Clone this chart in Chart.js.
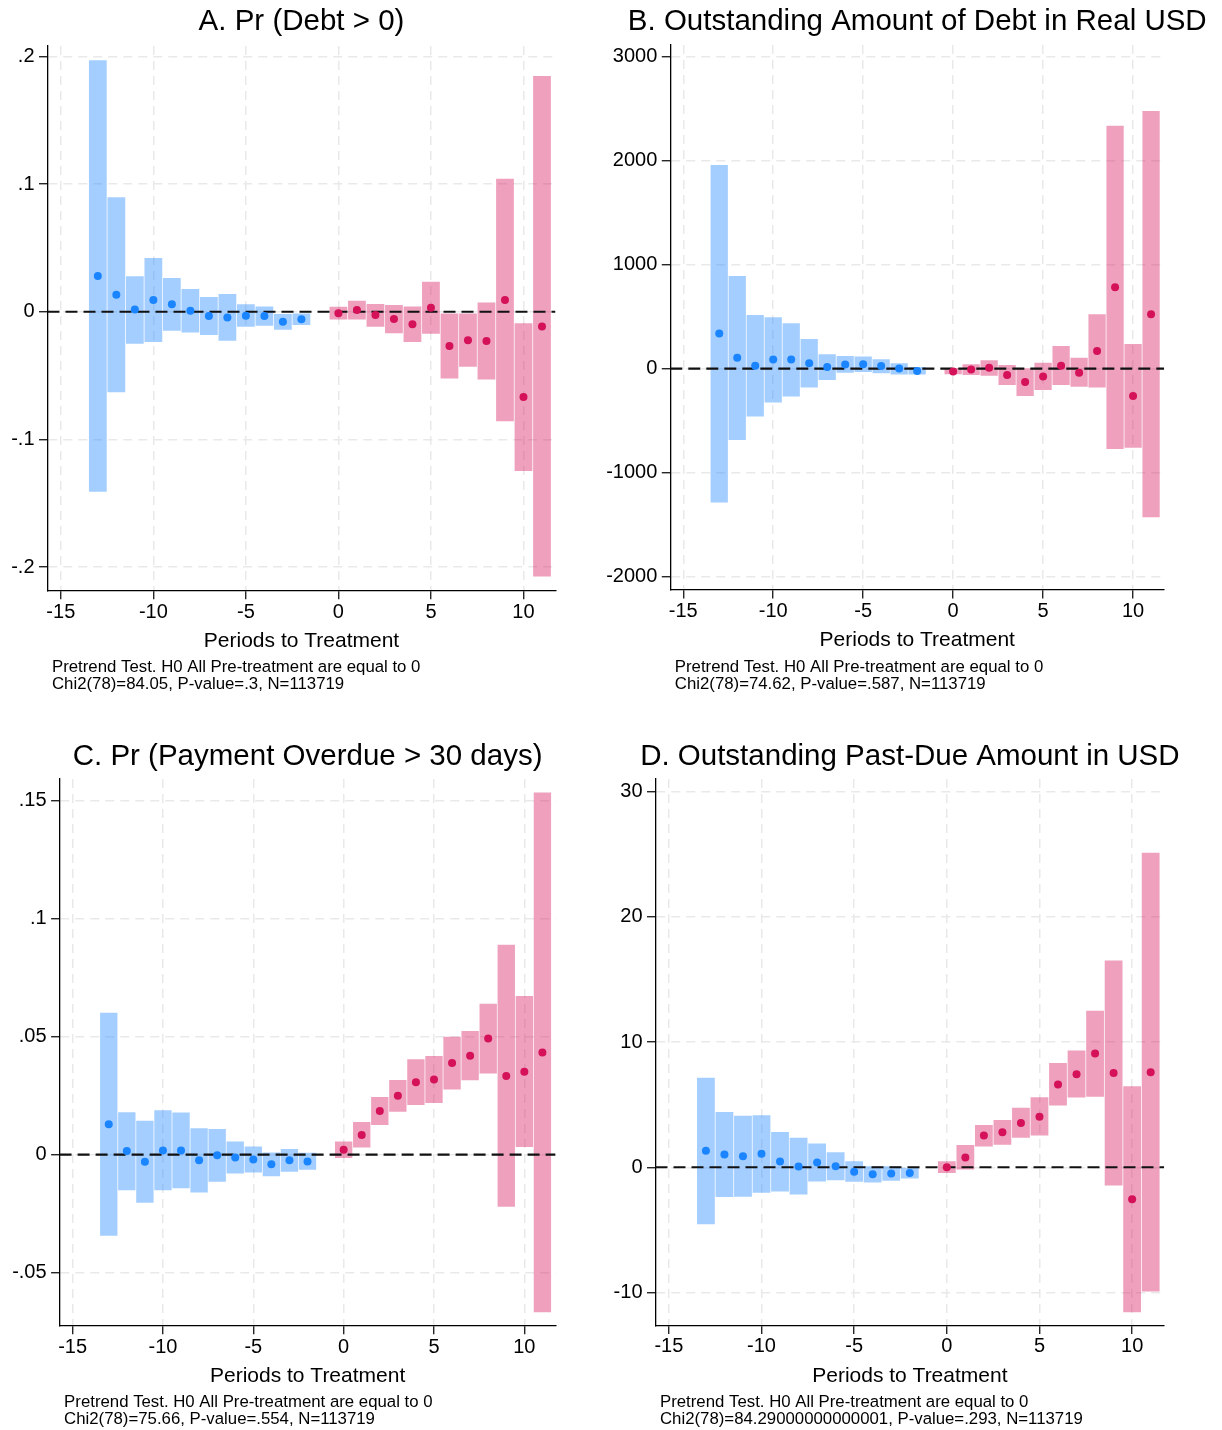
<!DOCTYPE html>
<html>
<head>
<meta charset="utf-8">
<script src="https://cdn.jsdelivr.net/npm/chart.js@4.4.1/dist/chart.umd.min.js"></script>
<style>
  html, body { margin: 0; padding: 0; background: #fff; }
  #wrap { position: relative; width: 1222px; height: 1430px; overflow: hidden; }
  .panel { position: absolute; height: 715px; }
</style>
</head>
<body>
<div id="wrap">
  <div class="panel" style="left:0;top:0"><canvas id="chartA" width="595" height="715"></canvas></div>
  <div class="panel" style="left:595px;top:0"><canvas id="chartB" width="627" height="715"></canvas></div>
  <div class="panel" style="left:0;top:715px"><canvas id="chartC" width="595" height="715"></canvas></div>
  <div class="panel" style="left:595px;top:715px"><canvas id="chartD" width="627" height="715"></canvas></div>
</div>
<script>
const xTicks = [-15, -10, -5, 0, 5, 10];
const prePeriods = [-13, -12, -11, -10, -9, -8, -7, -6, -5, -4, -3, -2];
const postPeriods = [0, 1, 2, 3, 4, 5, 6, 7, 8, 9, 10, 11];

// A. Pr (Debt > 0)
const debtPre   = [0.028, 0.0134, 0.0017, 0.0092, 0.0059, 0.0008, -0.0034, -0.0045, -0.0031, -0.0034, -0.0078, -0.0059];
const debtPreLo = [-0.141, -0.0631, -0.0251, -0.0237, -0.0148, -0.0162, -0.0182, -0.0226, -0.0117, -0.0109, -0.014, -0.0103];
const debtPreHi = [0.197, 0.0897, 0.0279, 0.0422, 0.0265, 0.0179, 0.0115, 0.014, 0.0059, 0.0042, -0.0017, -0.0014];
const debtPost   = [-0.0011, 0.0014, -0.0025, -0.0056, -0.0098, 0.0031, -0.0268, -0.0223, -0.0229, 0.0092, -0.0668, -0.0115];
const debtPostLo = [-0.0061, -0.0061, -0.0117, -0.0168, -0.0237, -0.0173, -0.0522, -0.043, -0.053, -0.0858, -0.1246, -0.2073];
const debtPostHi = [0.0039, 0.0087, 0.0061, 0.0053, 0.0042, 0.0235, -0.0014, -0.0014, 0.0073, 0.1042, -0.0089, 0.1846];
const debtYTicks  = [-0.2, -0.1, 0, 0.1, 0.2];
const debtYLabels = ['-.2', '-.1', '0', '.1', '.2'];

// B. Outstanding Amount of Debt in Real USD
const amtPre   = [337, 103, 27, 86, 86, 52, 14, 38, 41, 24, 0, -24];
const amtPreLo = [-1288, -687, -460, -326, -268, -182, -110, -41, -34, -45, -58, -58];
const amtPreHi = [1957, 889, 515, 494, 436, 285, 137, 120, 117, 89, 52, 14];
const amtPost   = [-27, -10, 7, -62, -130, -76, 27, -41, 168, 783, -264, 522];
const amtPostLo = [-55, -62, -69, -158, -264, -206, -158, -175, -182, -773, -762, -1429];
const amtPostHi = [5, 41, 79, 34, 3, 55, 216, 103, 522, 2335, 237, 2476];
const amtYTicks  = [-2000, -1000, 0, 1000, 2000, 3000];
const amtYLabels = ['-2000', '-1000', '0', '1000', '2000', '3000'];

// C. Pr (Payment Overdue > 30 days)
const overPre   = [0.0129, 0.0015, -0.003, 0.0018, 0.0018, -0.0024, -0.0003, -0.0012, -0.0021, -0.0041, -0.0024, -0.0029];
const overPreLo = [-0.0344, -0.0151, -0.0204, -0.0151, -0.0142, -0.016, -0.0115, -0.008, -0.0076, -0.0092, -0.0073, -0.0064];
const overPreHi = [0.0601, 0.018, 0.0144, 0.0188, 0.0179, 0.0112, 0.0109, 0.0056, 0.0035, 0.0009, 0.0024, 0.0008];
const overPost   = [0.0021, 0.0083, 0.0185, 0.025, 0.0307, 0.0318, 0.0388, 0.0419, 0.0492, 0.0333, 0.0351, 0.0433];
const overPostLo = [-0.0014, 0.003, 0.0126, 0.0182, 0.021, 0.0219, 0.0276, 0.0315, 0.0344, -0.0221, 0.0032, -0.0668];
const overPostHi = [0.0056, 0.0138, 0.0244, 0.0316, 0.0404, 0.0418, 0.05, 0.0524, 0.064, 0.0889, 0.0672, 0.1535];
const overYTicks  = [-0.05, 0, 0.05, 0.1, 0.15];
const overYLabels = ['-.05', '0', '.05', '.1', '.15'];

// D. Outstanding Past-Due Amount in USD
const pastPre   = [1.31, 1.02, 0.87, 1.07, 0.46, 0.06, 0.38, 0.09, -0.35, -0.55, -0.49, -0.46];
const pastPreLo = [-4.56, -2.38, -2.35, -2.03, -1.94, -2.18, -1.13, -1.04, -1.16, -1.22, -1.07, -0.9];
const pastPreHi = [7.14, 4.41, 4.12, 4.15, 2.82, 2.35, 1.89, 1.19, 0.49, 0.09, 0.09, -0.03];
const pastPost   = [0, 0.78, 2.53, 2.79, 3.54, 4.03, 6.62, 7.43, 9.09, 7.52, -2.55, 7.58];
const pastPostLo = [-0.46, -0.17, 1.65, 1.8, 2.35, 2.53, 4.93, 5.57, 5.63, -1.45, -11.58, -9.93];
const pastPostHi = [0.49, 1.77, 3.37, 3.77, 4.76, 5.6, 8.33, 9.32, 12.51, 16.52, 6.47, 25.11];
const pastYTicks  = [-10, 0, 10, 20, 30];
const pastYLabels = ['-10', '0', '10', '20', '30'];

const FONT = '"Liberation Sans", Arial, Helvetica, sans-serif';
const BLUE = '#1a85ff';
const PINK = '#d41159';
const BLUE_BAND = 'rgba(26, 133, 255, 0.4)';
const PINK_BAND = 'rgba(212, 17, 89, 0.4)';
const X_MIN = -15.72, X_MAX = 11.73;

const band = (periods, lo, hi) => periods.map((p, i) => ({ x: p, y: [lo[i], hi[i]] }));
const points = (periods, est) => periods.map((p, i) => ({ x: p, y: est[i] }));

// title above the plot and the two note lines under the axis title
const panelText = {
    id: 'panelText',
    afterDraw(chart, args, opts) {
        const { ctx, chartArea } = chart;
        ctx.save();
        ctx.fillStyle = '#000';
        ctx.textBaseline = 'middle';
        ctx.font = '29.5px ' + FONT;
        ctx.textAlign = 'center';
        ctx.fillText(opts.title, (chartArea.left + chartArea.right) / 2, opts.titleY);
        ctx.font = '16.8px ' + FONT;
        ctx.textAlign = 'left';
        opts.notes.forEach((t, i) => ctx.fillText(t, chartArea.left + 4.5, chartArea.bottom + 77 + i * 17));
        ctx.restore();
    }
};

function drawPanel(id, p) {
    const canvas = document.getElementById(id);
    const ctx = canvas.getContext('2d');
    const xh = 63;
    new Chart(ctx, {
        type: 'bar',
        data: {
            datasets: [
                { type: 'scatter', data: points(prePeriods, p.pre), pointRadius: 4, pointBackgroundColor: BLUE, pointBorderWidth: 0, order: 0 },
                { type: 'scatter', data: points(postPeriods, p.post), pointRadius: 4, pointBackgroundColor: PINK, pointBorderWidth: 0, order: 0 },
                { type: 'line', data: [{ x: X_MIN, y: 0 }, { x: X_MAX, y: 0 }], borderColor: '#111', borderWidth: 2.2, borderDash: [12, 6], pointRadius: 0, order: 1 },
                { type: 'bar', data: band(prePeriods, p.preLo, p.preHi), backgroundColor: BLUE_BAND, grouped: false, categoryPercentage: 1, barPercentage: 0.96, order: 2 },
                { type: 'bar', data: band(postPeriods, p.postLo, p.postHi), backgroundColor: PINK_BAND, grouped: false, categoryPercentage: 1, barPercentage: 0.96, order: 2 }
            ]
        },
        options: {
            responsive: false,
            animation: false,
            layout: { padding: { left: 0, top: p.top, right: canvas.width - p.right, bottom: 715 - p.bottom - xh } },
            scales: {
                x: {
                    type: 'linear', min: X_MIN, max: X_MAX, offset: false,
                    afterBuildTicks: s => { s.ticks = xTicks.map(v => ({ value: v })); },
                    afterFit: s => { s.height = xh; },
                    ticks: { includeBounds: false, autoSkip: false, maxRotation: 0, padding: 1, color: '#000', font: { family: FONT, size: 20 }, callback: v => String(v) },
                    grid: { offset: false, color: '#e9e9e9', lineWidth: 1.5, tickColor: '#000', tickLength: 8.5, tickWidth: 1.2 },
                    border: { color: '#000', width: 1.3, dash: [9, 6] },
                    title: { display: true, text: 'Periods to Treatment', color: '#000', font: { family: FONT, size: 21 }, padding: 0 }
                },
                y: {
                    min: p.yMin, max: p.yMax,
                    afterBuildTicks: s => { s.ticks = p.yTicks.map(v => ({ value: v })); },
                    afterFit: s => { s.width = p.left; },
                    ticks: { includeBounds: false, autoSkip: false, padding: 4.5, color: '#000', font: { family: FONT, size: 20 }, callback: v => p.yLabels[p.yTicks.indexOf(v)] },
                    grid: { color: '#e9e9e9', lineWidth: 1.5, tickColor: '#000', tickLength: 8.5, tickWidth: 1.2 },
                    border: { color: '#000', width: 1.3, dash: [9, 6] }
                }
            },
            plugins: {
                legend: { display: false },
                tooltip: { enabled: false },
                panelText: { title: p.title, titleY: p.titleY, notes: p.notes }
            }
        },
        plugins: [panelText]
    });
}

drawPanel('chartA', {
    title: 'A. Pr (Debt > 0)', titleY: 21.5,
    left: 47.5, right: 555.5, top: 46, bottom: 590.7,
    yMin: -0.2184, yMax: 0.2081, yTicks: debtYTicks, yLabels: debtYLabels,
    pre: debtPre, preLo: debtPreLo, preHi: debtPreHi,
    post: debtPost, postLo: debtPostLo, postHi: debtPostHi,
    notes: ['Pretrend Test. H0 All Pre-treatment are equal to 0', 'Chi2(78)=84.05, P-value=.3, N=113719']
});

drawPanel('chartB', {
    title: 'B. Outstanding Amount of Debt in Real USD', titleY: 21.5,
    left: 75.3, right: 569.2, top: 45, bottom: 590,
    yMin: -2129, yMax: 3111, yTicks: amtYTicks, yLabels: amtYLabels,
    pre: amtPre, preLo: amtPreLo, preHi: amtPreHi,
    post: amtPost, postLo: amtPostLo, postHi: amtPostHi,
    notes: ['Pretrend Test. H0 All Pre-treatment are equal to 0', 'Chi2(78)=74.62, P-value=.587, N=113719']
});

drawPanel('chartC', {
    title: 'C. Pr (Payment Overdue > 30 days)', titleY: 42,
    left: 59.6, right: 555.6, top: 64, bottom: 610.7,
    yMin: -0.0725, yMax: 0.1592, yTicks: overYTicks, yLabels: overYLabels,
    pre: overPre, preLo: overPreLo, preHi: overPreHi,
    post: overPost, postLo: overPostLo, postHi: overPostHi,
    notes: ['Pretrend Test. H0 All Pre-treatment are equal to 0', 'Chi2(78)=75.66, P-value=.554, N=113719']
});

drawPanel('chartD', {
    title: 'D. Outstanding Past-Due Amount in USD', titleY: 42,
    left: 60.5, right: 569.2, top: 64, bottom: 610.4,
    yMin: -12.63, yMax: 31.01, yTicks: pastYTicks, yLabels: pastYLabels,
    pre: pastPre, preLo: pastPreLo, preHi: pastPreHi,
    post: pastPost, postLo: pastPostLo, postHi: pastPostHi,
    notes: ['Pretrend Test. H0 All Pre-treatment are equal to 0', 'Chi2(78)=84.29000000000001, P-value=.293, N=113719']
});
</script>
</body>
</html>
